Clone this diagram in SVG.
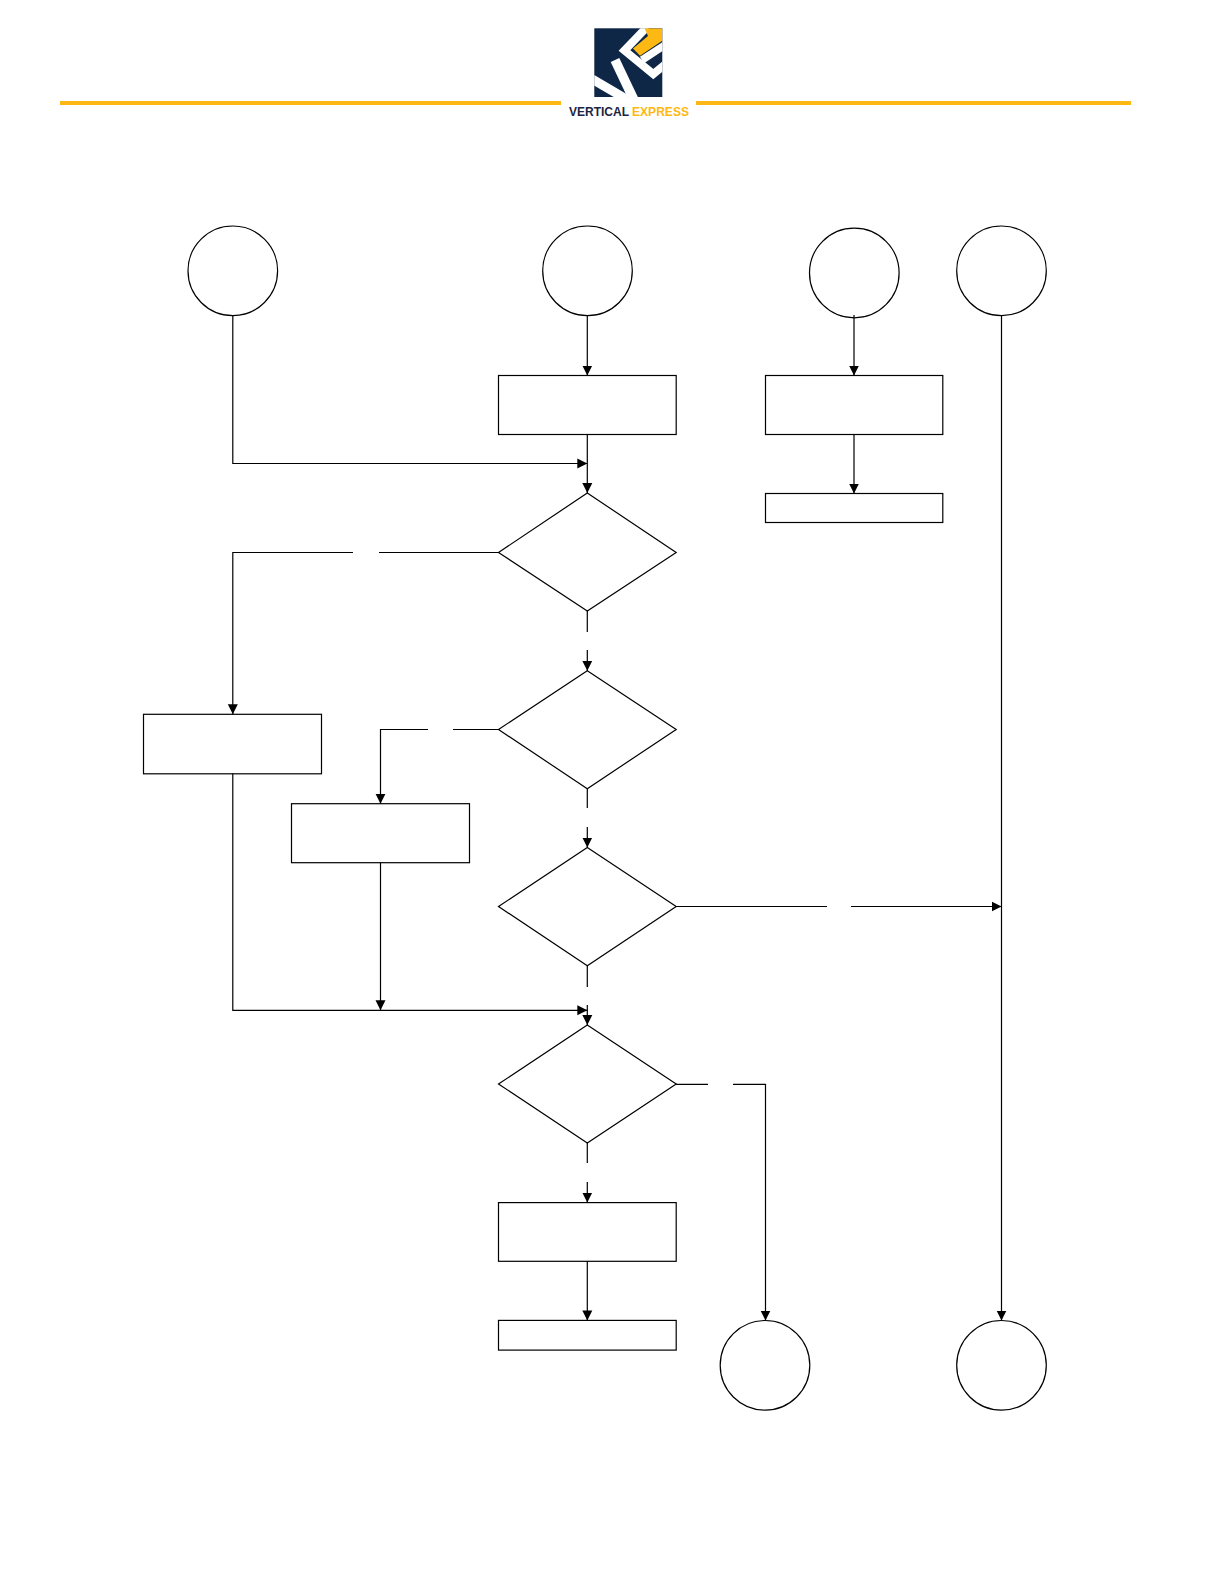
<svg xmlns="http://www.w3.org/2000/svg" width="1224" height="1584" viewBox="0 0 1224 1584">
<style>
.s{fill:#fff;stroke:#000;stroke-width:1.2}
.c{fill:none;stroke:#000;stroke-width:1.2}
.lw{fill:none;stroke:#fff}
.brand{font-family:"Liberation Sans",Arial,sans-serif;font-weight:700;font-size:12.5px}
</style>
<defs>
<marker id="a" markerUnits="userSpaceOnUse" markerWidth="11" markerHeight="11" refX="10" refY="5.500" orient="auto"><path d="M0 0.500L10 5.500L0 10.500Z" fill="#000"/></marker>
<clipPath id="sq"><rect x="594.300" y="28.300" width="68" height="68.700"/></clipPath>
</defs>
<rect width="1224" height="1584" fill="#fff"/>
<g id="logo">
<rect x="60" y="101" width="501" height="4" fill="#fdb813"/>
<rect x="696" y="101" width="435" height="4" fill="#fdb813"/>
<rect x="594.300" y="28.300" width="68" height="68.700" fill="#0f2747"/>
<g clip-path="url(#sq)">
<path class="lw" stroke-width="9" d="M592 79L626 99"/>
<path class="lw" stroke-width="9.500" d="M615 60L634 100"/>
<path class="lw" stroke-width="8" d="M647 27L624.500 50.500L653.300 74L668 62"/>
<path class="lw" stroke-width="7.500" d="M642 60L668 43"/>
<polygon points="633,48.500 648,36 644.500,28.300 662.300,28.300 662.300,40.700 640,55.700" fill="#fdb813"/>
</g>
<text x="569" y="116" class="brand" fill="#1b2440" textLength="60" lengthAdjust="spacingAndGlyphs">VERTICAL</text>
<text x="632" y="116" class="brand" fill="#fdb813" textLength="57" lengthAdjust="spacingAndGlyphs">EXPRESS</text>
</g>
<circle id="c1" class="s" cx="232.800" cy="270.800" r="44.800"/>
<circle id="c2" class="s" cx="587.500" cy="270.800" r="44.800"/>
<circle id="c3" class="s" cx="854.300" cy="273" r="44.800"/>
<circle id="c4" class="s" cx="1001.500" cy="270.800" r="44.800"/>
<circle id="c5" class="s" cx="765" cy="1365.300" r="44.800"/>
<circle id="c6" class="s" cx="1001.500" cy="1365.300" r="44.800"/>
<rect id="r1" class="s" x="498.500" y="375.500" width="177.700" height="59"/>
<rect id="r2" class="s" x="765.500" y="375.500" width="177.300" height="59"/>
<rect id="r3" class="s" x="765.500" y="493.500" width="177.300" height="29"/>
<rect id="r4" class="s" x="143.500" y="714.300" width="178" height="59.500"/>
<rect id="r5" class="s" x="291.500" y="803.700" width="178" height="59"/>
<rect id="r6" class="s" x="498.500" y="1202.600" width="177.700" height="58.700"/>
<rect id="r7" class="s" x="498.500" y="1320.400" width="177.700" height="29.700"/>
<polygon id="d1" class="s" points="587.300,493 676.200,552.500 587.300,611 498.500,552.500"/>
<polygon id="d2" class="s" points="587.300,670.800 676.200,729.500 587.300,788.700 498.500,729.500"/>
<polygon id="d3" class="s" points="587.300,847.500 676.200,906.500 587.300,965.700 498.500,906.500"/>
<polygon id="d4" class="s" points="587.300,1025 676.200,1084 587.300,1143 498.500,1084"/>
<g id="connectors" class="c">
<path d="M232.800 315.500V463.500H587.300" marker-end="url(#a)"/>
<path d="M587.300 315.500V375.500" marker-end="url(#a)"/>
<path d="M587.300 434V493" marker-end="url(#a)"/>
<path d="M854 315V375.500" marker-end="url(#a)"/>
<path d="M854 434V493.500" marker-end="url(#a)"/>
<path d="M1001.500 315.500V1320.500" marker-end="url(#a)"/>
<path d="M498.500 552.500H379M353 552.500H232.800V714.300" marker-end="url(#a)"/>
<path d="M587.300 611V632M587.300 650V670.800" marker-end="url(#a)"/>
<path d="M498.500 729.500H453M428 729.500H380.500V803.700" marker-end="url(#a)"/>
<path d="M587.300 788.700V808M587.300 827V847.500" marker-end="url(#a)"/>
<path d="M676 906.500H827M851 906.500H1001.500" marker-end="url(#a)"/>
<path d="M587.300 965.700V987M587.300 1005V1025" marker-end="url(#a)"/>
<path d="M232.800 773.500V1010.300H587.300" marker-end="url(#a)"/>
<path d="M380.500 862.500V1010.300" marker-end="url(#a)"/>
<path d="M676 1084.300H708M733 1084.300H765.500V1320.500" marker-end="url(#a)"/>
<path d="M587.300 1143V1163M587.300 1182V1202.600" marker-end="url(#a)"/>
<path d="M587.300 1261V1320.400" marker-end="url(#a)"/>
</g>
</svg>
